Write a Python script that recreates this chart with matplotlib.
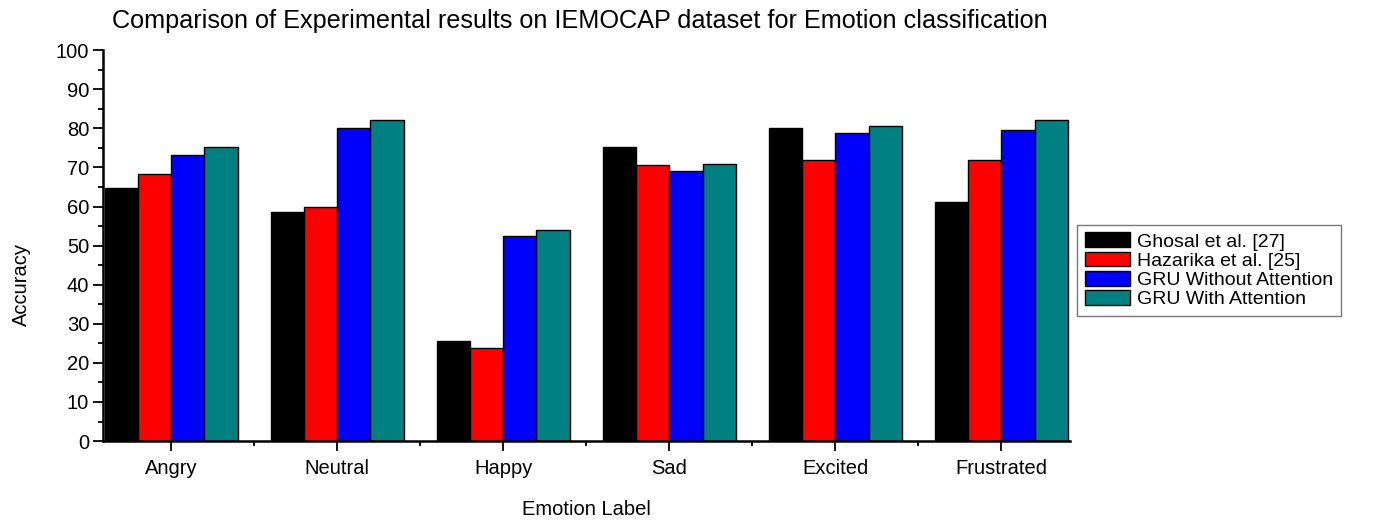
import numpy as np
from matplotlib import pyplot as plt
from matplotlib.ticker import MultipleLocator, FixedLocator

plt.rcParams['font.family'] = ['Liberation Sans', 'DejaVu Sans']

emotions = ['Angry', 'Neutral', 'Happy', 'Sad', 'Excited', 'Frustrated']
ghosal = [64.7, 58.5, 25.7, 75.2, 80.2, 61.2]
hazarika = [68.2, 59.9, 23.7, 70.6, 72.0, 71.9]
gru_no_att = [73.3, 80.2, 52.5, 69.0, 78.8, 79.5]
gru_att = [75.1, 82.0, 53.9, 70.9, 80.7, 82.0]

series = [ghosal, hazarika, gru_no_att, gru_att]
names = ['Ghosal et al. [27]', 'Hazarika et al. [25]',
         'GRU Without Attention', 'GRU With Attention']
colors = ['#000000', '#ff0000', '#0000ff', '#008080']

fig = plt.figure(figsize=(13.73, 5.22), dpi=100)
ax = fig.add_axes([0.075, 0.155, 0.704, 0.749])

x = np.arange(1, len(emotions) + 1)
w = 0.2
for k, (vals, name, c) in enumerate(zip(series, names, colors)):
    ax.bar(x + (k - 1.5) * w, vals, width=w, color=c, edgecolor='black',
           linewidth=1, label=name)

ax.set_xlim(0.59, 6.41)
ax.set_ylim(0, 100)
ax.set_xticks(x)
ax.set_xticklabels(emotions, fontsize=14.5)
ax.xaxis.set_minor_locator(FixedLocator(x[:-1] + 0.5))
ax.yaxis.set_major_locator(MultipleLocator(10))
ax.yaxis.set_minor_locator(MultipleLocator(5))
ax.tick_params(axis='y', labelsize=14.5, pad=3)
ax.tick_params(axis='x', pad=6)
ax.tick_params(which='major', direction='out', length=7, width=1.3)
ax.tick_params(which='minor', direction='out', length=3.5, width=1.3)

for s in ['top', 'right']:
    ax.spines[s].set_visible(False)
for s in ['left', 'bottom']:
    ax.spines[s].set_linewidth(1.8)

ax.set_xlabel('Emotion Label', fontsize=14.5)
ax.xaxis.set_label_coords(0.5, -0.15)
ax.set_ylabel('Accuracy', fontsize=14.5)
ax.yaxis.set_label_coords(-0.075, 0.40)
fig.text(0.422, 0.96, 'Comparison of Experimental results on IEMOCAP dataset for Emotion classification',
         ha='center', va='center', fontsize=18.2)

leg = ax.legend(loc='center left', bbox_to_anchor=(1.008, 0.437), fontsize=14,
                frameon=True, fancybox=False, edgecolor='#555555',
                handlelength=2.3, handleheight=0.8, handletextpad=0.36,
                labelspacing=0.05, borderpad=0.4, borderaxespad=0)
leg.get_frame().set_linewidth(1)

fig.savefig('out.png', dpi=100)
